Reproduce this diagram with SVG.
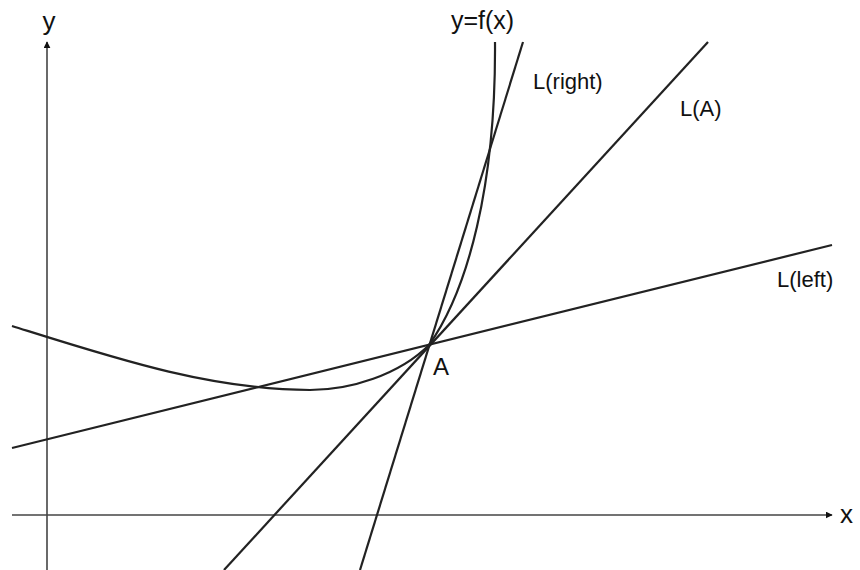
<svg xmlns="http://www.w3.org/2000/svg" width="860" height="570" viewBox="0 0 860 570">
<style>
.ax{stroke:#444;stroke-width:1.6;fill:none}
.ln{stroke:#222;stroke-width:2.2;fill:none}
text{font-family:"Liberation Sans",Arial,sans-serif;fill:#111}
</style>
<defs>
<marker id="ah" viewBox="0 0 10 10" refX="9" refY="5" markerWidth="7" markerHeight="7" orient="auto" markerUnits="userSpaceOnUse">
<path d="M0,0 L10,5 L0,10 z" fill="#111"/>
</marker>
</defs>
<rect width="860" height="570" fill="#fff"/>
<g id="axes">
<line class="ax" x1="47" y1="570" x2="47" y2="42" marker-end="url(#ah)"/>
<line class="ax" x1="12" y1="515" x2="832" y2="515" marker-end="url(#ah)"/>
<text x="49" y="30" font-size="26" text-anchor="middle">y</text>
<text x="840" y="523" font-size="26">x</text>
</g>
<g id="connectors">
<line id="Lleft" class="ln" x1="12" y1="448" x2="832" y2="245"/>
<line id="LA" class="ln" x1="224" y1="570" x2="708" y2="42"/>
<line id="Lright" class="ln" x1="360" y1="570" x2="523" y2="42"/>
<path id="curve" class="ln" d="M12,326 C112,357.4 210,390 310,390 C350,390 399,375 429,345 C468,290 496,185 495,42"/>
</g>
<g id="labels">
<text x="451" y="29" font-size="25">y=f(x)</text>
<text x="533" y="89" font-size="22">L(right)</text>
<text x="680" y="116" font-size="22">L(A)</text>
<text x="777" y="287" font-size="22">L(left)</text>
<text x="433" y="375" font-size="24">A</text>
</g>
</svg>
